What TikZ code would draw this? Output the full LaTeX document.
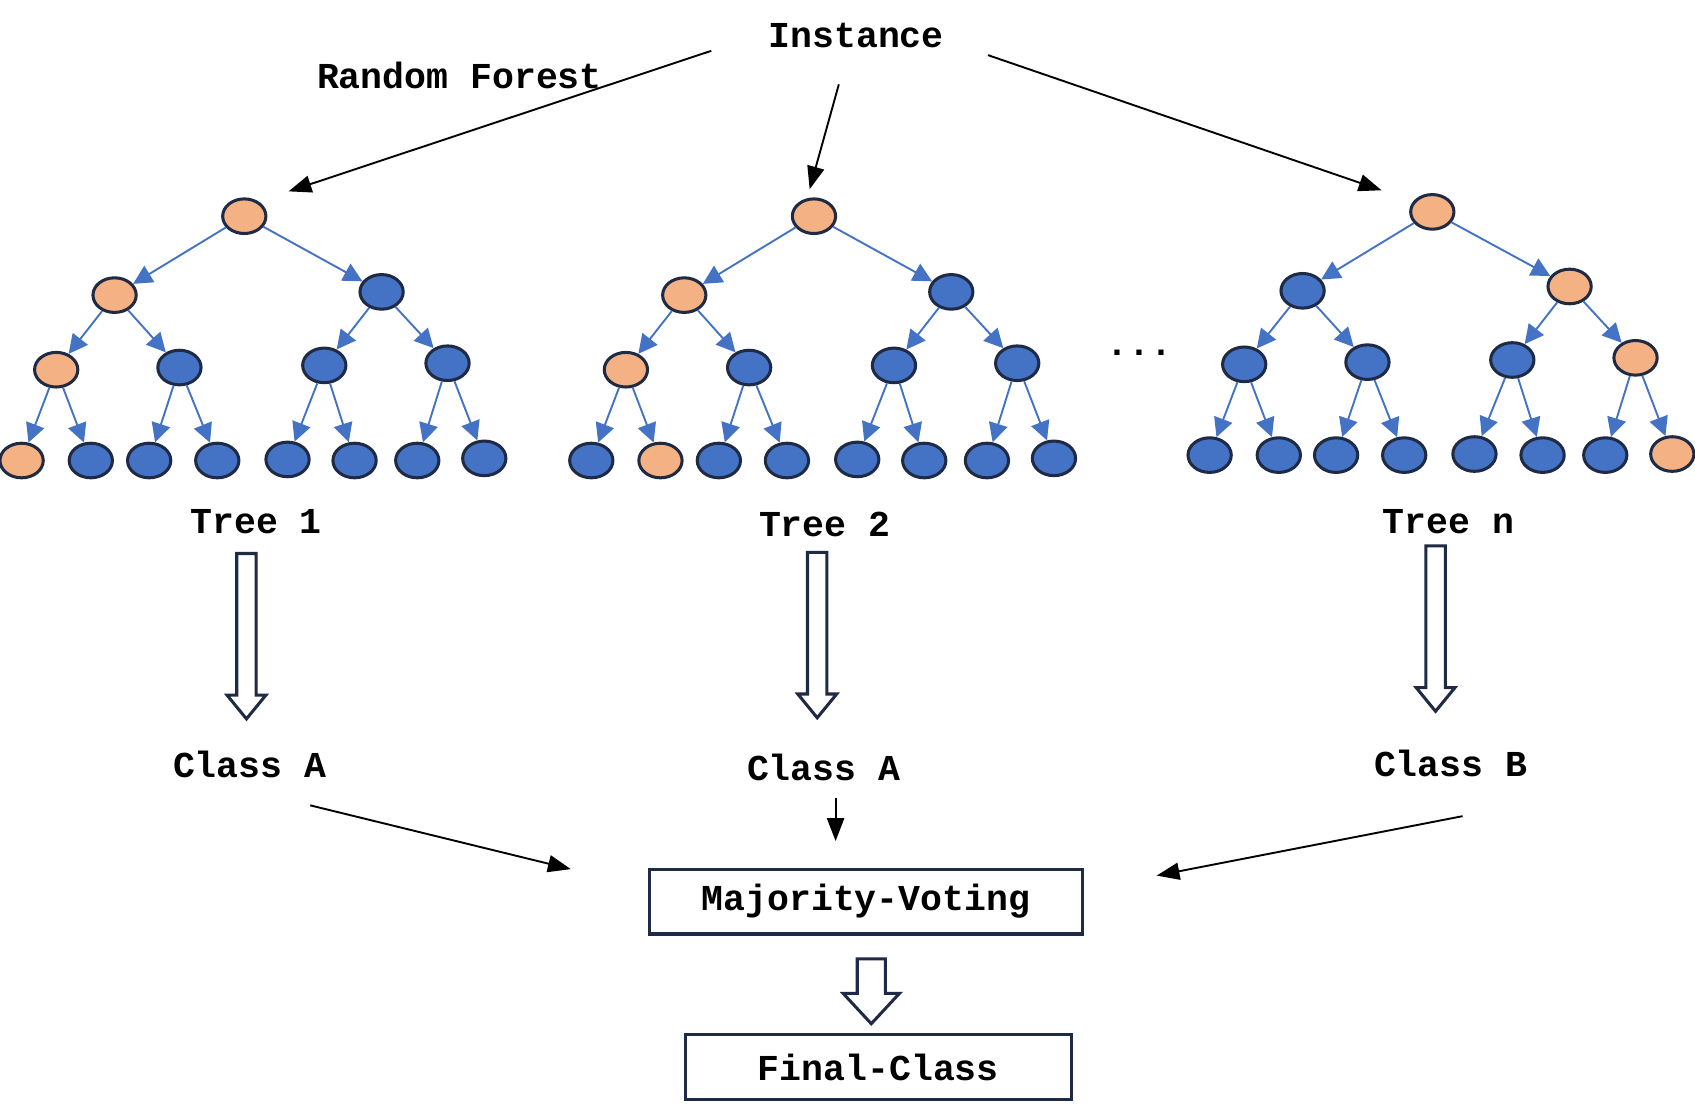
\documentclass[tikz,border=0pt]{standalone}
\usepackage{fontspec}
\setmonofont{Liberation Mono}
\usetikzlibrary{arrows.meta,shapes.geometric}
\definecolor{org}{HTML}{F4B183}
\definecolor{blu}{HTML}{4472C4}
\definecolor{edg}{HTML}{4472C4}
\definecolor{bd}{HTML}{1F2A44}
\tikzset{
 tn/.style={ellipse,draw=bd,line width=0.8pt,minimum width=0.4cm,minimum height=0.32cm,inner sep=0pt},
 te/.style={draw=edg,line width=0.5pt,-{Triangle[length=5pt,width=5pt]}},
 lbl/.style={font=\ttfamily\bfseries\fontsize{9.6}{11}\selectfont,inner sep=1pt},
 blk/.style={draw=black,line width=0.5pt,-{Triangle[length=6pt,width=4.5pt]}},
 box/.style={draw=bd,line width=0.8pt,inner sep=0pt},
 hol/.style={draw=bd,line width=0.8pt,fill=white}
}
\begin{document}
\begin{tikzpicture}[x=0.01cm,y=-0.01cm]
\useasboundingbox (0,0) rectangle (1568,1029);
\newcommand\rftree[4]{%
 \foreach \i/\x/\y/\c in {#4}{%
   \node[tn,fill=\c] (#1\i) at (\x+#2,\y+#3) {};}
 \foreach \i in {2,...,15}{%
   \pgfmathtruncatemacro\p{\i/2}%
   \draw[te] (#1\p) -- (#1\i);}
}
\rftree{a}{0}{0}{1/226/200/org,2/106/273/org,3/353/270/blu,4/52/342/org,5/166/340/blu,6/300/338/blu,7/414/336/blu,8/20/426/org,9/84/426/blu,10/138/426/blu,11/201/426/blu,12/266/425/blu,13/328/426/blu,14/386/426/blu,15/448/424/blu}
\rftree{b}{527}{0}{1/226/200/org,2/106/273/org,3/353/270/blu,4/52/342/org,5/166/340/blu,6/300/338/blu,7/414/336/blu,8/20/426/blu,9/84/426/org,10/138/426/blu,11/201/426/blu,12/266/425/blu,13/328/426/blu,14/386/426/blu,15/448/424/blu}
\rftree{c}{1099}{-4}{1/226/200/org,2/106/273/blu,3/353/269/org,4/52/341/blu,5/166/339/blu,6/300/337/blu,7/414/335/org,8/20/425/blu,9/84/425/blu,10/137/425/blu,11/200/425/blu,12/265/424/blu,13/328/425/blu,14/386/425/blu,15/448/424/org}
\node[lbl] (inst) at (792,33) {Instance};
\node[lbl] (rf) at (425,70) {Random Forest};
\node[lbl] (t1) at (237,483) {Tree 1};
\node[lbl] (t2) at (763,485) {Tree 2};
\node[lbl] (tn) at (1340,483) {Tree n};
\node[lbl] (dots) at (1054,326) {...};
\node[lbl] (ca1) at (231,707) {Class A};
\node[lbl] (ca2) at (762,710) {Class A};
\node[lbl] (cb) at (1342,706) {Class B};
\node[box,minimum width=4cm,minimum height=0.6cm] (mv) at (801,834) {};
\node[lbl] at (mv) {Majority-Voting};
\node[box,minimum width=3.57cm,minimum height=0.6cm] (fc) at (812.5,987) {};
\node[lbl] at (fc) {Final-Class};
\coordinate (s1) at (658,47); \coordinate (e1) at (267,177);
\coordinate (s2) at (776,78); \coordinate (e2) at (749,175);
\coordinate (s3) at (914,51); \coordinate (e3) at (1278,176);
\coordinate (s4) at (287,745); \coordinate (e4) at (528,804);
\coordinate (s5) at (773,738); \coordinate (e5) at (773,778);
\coordinate (s6) at (1353,755); \coordinate (e6) at (1070,810);
\foreach \k in {1,...,6}{\draw[blk] (s\k) -- (e\k);}
\newcommand\hollow[6]{%
 \draw[hol] (#1-#4,#2) -- (#1+#4,#2) -- (#1+#4,#3-#6) -- (#1+#5,#3-#6) -- (#1,#3) -- (#1-#5,#3-#6) -- (#1-#4,#3-#6) -- cycle;}
\hollow{228}{512}{665}{9}{18}{22}
\hollow{756}{511}{664}{9}{18}{22}
\hollow{1328}{505}{658}{9}{18}{22}
\hollow{806}{887}{947}{13}{26}{28}
\end{tikzpicture}
\end{document}
